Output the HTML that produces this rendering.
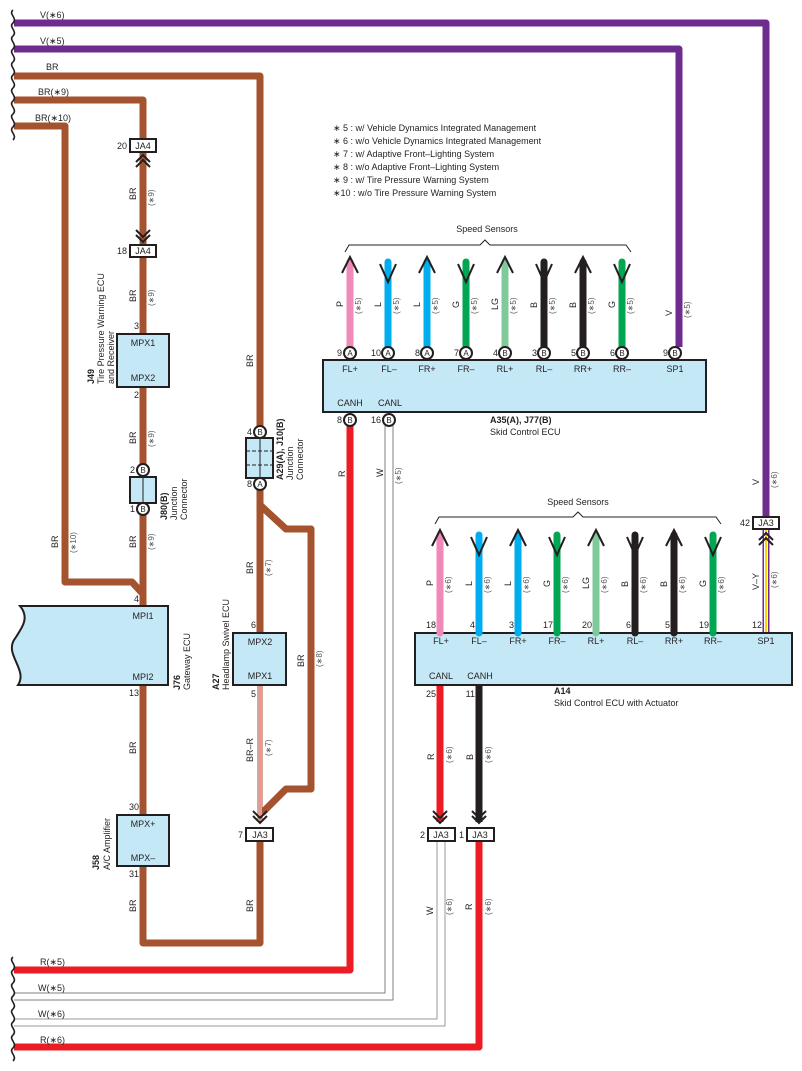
<!DOCTYPE html>
<html><head><meta charset="utf-8"><style>
html,body{margin:0;padding:0;background:#fff}
svg{display:block}
text{font-family:"Liberation Sans",sans-serif;fill:#231f20}
.t{font-size:9px}
.s{font-size:8px;fill:#555}
.b{font-size:9px;font-weight:bold}
</style></head><body>
<svg width="802" height="1071" viewBox="0 0 802 1071" xmlns="http://www.w3.org/2000/svg">
<defs>
<path id="wave" d="M0,0 c-5,4 5,8 0,13 c-5,4 5,8 0,13" fill="none" stroke="#231f20" stroke-width="1.6"/>
</defs>
<g fill="none" stroke-linejoin="round">
<!-- purple -->
<path d="M14,23 H766 V517" stroke="#6e2c8f" stroke-width="7"/>
<path d="M14,49 H679 V347" stroke="#6e2c8f" stroke-width="7"/>
<!-- BR -->
<path d="M14,76 H260 V426" stroke="#a5532f" stroke-width="7"/>
<path d="M14,100 H143 V139" stroke="#a5532f" stroke-width="7"/>
<path d="M14,126 H65 V582 H132 L143,594 V606" stroke="#a5532f" stroke-width="7"/>
<path d="M143,152 V245" stroke="#a5532f" stroke-width="7"/>
<path d="M143,256 V334 M143,387 V464 M143,515 V606" stroke="#a5532f" stroke-width="7"/>
<path d="M143,685 V815 M143,866 V943 H260 V841" stroke="#a5532f" stroke-width="7"/>
<path d="M260,490 V633" stroke="#a5532f" stroke-width="7"/>
<path d="M260,505 L286,529 H311 V789 H286 L262,813" stroke="#a5532f" stroke-width="7"/>
<!-- BR-R -->
<path d="M260,685 V822" stroke="#a5532f" stroke-width="5"/>
<path d="M260,685 V822" stroke="#fff" stroke-width="3"/>
<path d="M260,685 V822" stroke="#ed1c24" stroke-width="1"/>
<!-- red -->
<path d="M14,970 H350 V426" stroke="#ed1c24" stroke-width="7"/>
<path d="M14,1047 H479 V841" stroke="#ed1c24" stroke-width="7"/>
<path d="M440,685 V822" stroke="#ed1c24" stroke-width="7"/>
<path d="M479,685 V822" stroke="#231f20" stroke-width="7"/>
<!-- white wires -->
<path d="M14,993 H385 V426 M14,1000 H393 V426" stroke="#808080" stroke-width="1"/>
<path d="M14,1019 H437 V841 M14,1026 H445 V841" stroke="#999" stroke-width="1"/>
<!-- V-Y -->
<path d="M766,529 V633" stroke="#6e2c8f" stroke-width="7"/>
<path d="M766,529 V633" stroke="#fff" stroke-width="4"/>
<path d="M766,529 V633" stroke="#ffd200" stroke-width="2"/>
</g>
<!-- wavy breaks -->
<use href="#wave" x="13" y="10"/><use href="#wave" x="13" y="36"/><use href="#wave" x="13" y="62"/><use href="#wave" x="13" y="88"/><use href="#wave" x="13" y="114"/>
<use href="#wave" x="13" y="957"/><use href="#wave" x="13" y="983"/><use href="#wave" x="13" y="1009"/><use href="#wave" x="13" y="1035"/>
<g class="t">
<text x="40" y="18">V(∗6)</text><text x="40" y="44">V(∗5)</text><text x="46" y="70">BR</text>
<text x="38" y="95">BR(∗9)</text><text x="35" y="121">BR(∗10)</text>
<text x="40" y="965">R(∗5)</text><text x="38" y="991">W(∗5)</text><text x="38" y="1017">W(∗6)</text><text x="40" y="1043">R(∗6)</text>
</g>
<!-- legend -->
<g class="t">
<text x="333" y="131">∗ 5 : w/ Vehicle Dynamics Integrated Management</text>
<text x="333" y="144">∗ 6 : w/o Vehicle Dynamics Integrated Management</text>
<text x="333" y="157">∗ 7 : w/ Adaptive Front–Lighting System</text>
<text x="333" y="170">∗ 8 : w/o Adaptive Front–Lighting System</text>
<text x="333" y="183">∗ 9 : w/ Tire Pressure Warning System</text>
<text x="333" y="196">∗10 : w/o Tire Pressure Warning System</text>
</g>
<!-- JA4 connectors -->
<g fill="#fff" stroke="#231f20" stroke-width="2">
<rect x="130" y="139" width="26" height="13"/><rect x="130" y="245" width="26" height="12"/>
<rect x="246" y="828" width="27" height="13"/><rect x="428" y="828" width="27" height="13"/><rect x="467" y="828" width="27" height="13"/>
<rect x="753" y="517" width="26" height="12"/>
</g>
<g class="t" text-anchor="middle">
<text x="143" y="149">JA4</text><text x="143" y="254">JA4</text>
<text x="260" y="838">JA3</text><text x="441" y="838">JA3</text><text x="480" y="838">JA3</text><text x="766" y="526">JA3</text>
</g>
<g class="t" text-anchor="end">
<text x="127" y="149">20</text><text x="127" y="254">18</text><text x="243" y="838">7</text><text x="425" y="838">2</text><text x="464" y="838">1</text><text x="750" y="526">42</text>
</g>
<!-- chevrons -->
<g fill="none" stroke="#231f20" stroke-width="2">
<path d="M136,162 L143,155 L150,162 M136,167 L143,160 L150,167"/>
<path d="M136,230 L143,237 L150,230 M136,235 L143,242 L150,235"/>
<path d="M253,811 L260,818 L267,811 M253,816 L260,823 L267,816"/>
<path d="M433,811 L440,818 L447,811 M433,816 L440,823 L447,816"/>
<path d="M472,811 L479,818 L486,811 M472,816 L479,823 L486,816"/>
<path d="M759,540 L766,533 L773,540 M759,545 L766,538 L773,545"/>
</g>
<!-- boxes -->
<g fill="#c5e8f7" stroke="#231f20" stroke-width="2">
<rect x="117" y="334" width="52" height="53"/>
<rect x="117" y="815" width="52" height="51"/>
<rect x="233" y="633" width="53" height="52"/>
<path d="M20,606 H168 V685 H18 C28,670 5,655 14,640 C22,628 30,618 20,606 Z"/>
<rect x="323" y="360" width="383" height="52"/>
<rect x="415" y="633" width="377" height="52"/>
<rect x="130" y="477" width="26" height="26"/>
<rect x="246" y="438" width="27" height="40"/>
</g>
<path d="M143,477 V503 M260,438 V478" stroke="#231f20" stroke-width="1"/>
<path d="M246,451 H273 M246,465 H273" stroke="#231f20" stroke-width="1" stroke-dasharray="4,2"/>
<g class="t" text-anchor="middle">
<text x="143" y="346">MPX1</text><text x="143" y="381">MPX2</text>
<text x="143" y="827">MPX+</text><text x="143" y="861">MPX–</text>
<text x="260" y="645">MPX2</text><text x="260" y="679">MPX1</text>
<text x="143" y="619">MPI1</text><text x="143" y="680">MPI2</text>
</g>
<g class="t" text-anchor="end">
<text x="139" y="329">3</text><text x="139" y="398">2</text><text x="139" y="602">4</text><text x="139" y="696">13</text>
<text x="139" y="810">30</text><text x="139" y="877">31</text><text x="256" y="628">6</text><text x="256" y="697">5</text>
</g>
<!-- circles -->
<g fill="#fff" stroke="#231f20" stroke-width="2">
<circle cx="143" cy="470" r="6"/><circle cx="143" cy="509" r="6"/>
<circle cx="260" cy="432" r="6"/><circle cx="260" cy="484" r="6"/>
<circle cx="350" cy="420" r="6"/><circle cx="389" cy="420" r="6"/>
</g>
<g class="s" text-anchor="middle" style="font-size:8px;fill:#231f20">
<text x="143" y="473">B</text><text x="143" y="512">B</text><text x="260" y="435">B</text><text x="260" y="487">A</text>
<text x="350" y="423">B</text><text x="389" y="423">B</text>
</g>
<g class="t" text-anchor="end">
<text x="135" y="473">2</text><text x="135" y="512">1</text><text x="252" y="435">4</text><text x="252" y="487">8</text>
<text x="342" y="423">8</text><text x="381" y="423">16</text>
</g>
<!-- sensors A35 -->
<g id="sens1">
<g stroke-linecap="round" stroke-width="7" fill="none">
<path d="M350,262 V347" stroke="#f088b8"/><path d="M388,262 V347" stroke="#00aeef"/>
<path d="M427,262 V347" stroke="#00aeef"/><path d="M466,262 V347" stroke="#00a651"/>
<path d="M505,262 V347" stroke="#80c99b"/><path d="M544,262 V347" stroke="#231f20"/>
<path d="M583,262 V347" stroke="#231f20"/><path d="M622,262 V347" stroke="#00a651"/>
</g>
<g fill="none" stroke="#231f20" stroke-width="2">
<path d="M342,273 L350,257 L358,273"/><path d="M380,264 L388,282 L396,264"/>
<path d="M419,273 L427,257 L435,273"/><path d="M458,264 L466,282 L474,264"/>
<path d="M497,273 L505,257 L513,273"/><path d="M536,264 L544,282 L552,264"/>
<path d="M575,273 L583,257 L591,273"/><path d="M614,264 L622,282 L630,264"/>
<path d="M345,252 L349,245 H480 L485,240 L490,245 H626 L631,252" stroke-width="1"/>
</g>
</g>
<text class="t" x="487" y="232" text-anchor="middle">Speed Sensors</text>
<g fill="#fff" stroke="#231f20" stroke-width="2">
<circle cx="350" cy="353" r="6"/><circle cx="388" cy="353" r="6"/><circle cx="427" cy="353" r="6"/><circle cx="466" cy="353" r="6"/>
<circle cx="505" cy="353" r="6"/><circle cx="544" cy="353" r="6"/><circle cx="583" cy="353" r="6"/><circle cx="622" cy="353" r="6"/><circle cx="675" cy="353" r="6"/>
</g>
<g text-anchor="middle" style="font-size:8px">
<text x="350" y="356">A</text><text x="388" y="356">A</text><text x="427" y="356">A</text><text x="466" y="356">A</text>
<text x="505" y="356">B</text><text x="544" y="356">B</text><text x="583" y="356">B</text><text x="622" y="356">B</text><text x="675" y="356">B</text>
</g>
<g class="t" text-anchor="end">
<text x="342" y="356">9</text><text x="381" y="356">10</text><text x="420" y="356">8</text><text x="459" y="356">7</text>
<text x="498" y="356">4</text><text x="537" y="356">3</text><text x="576" y="356">5</text><text x="615" y="356">6</text><text x="668" y="356">9</text>
</g>
<g class="t" text-anchor="middle">
<text x="350" y="372">FL+</text><text x="389" y="372">FL–</text><text x="427" y="372">FR+</text><text x="466" y="372">FR–</text>
<text x="505" y="372">RL+</text><text x="544" y="372">RL–</text><text x="583" y="372">RR+</text><text x="622" y="372">RR–</text><text x="675" y="372">SP1</text>
<text x="350" y="406">CANH</text><text x="390" y="406">CANL</text>
</g>
<text class="b" x="490" y="423">A35(A), J77(B)</text>
<text class="t" x="490" y="435">Skid Control ECU</text>
<!-- sensors A14 -->
<g stroke-linecap="round" stroke-width="7" fill="none">
<path d="M440,535 V633" stroke="#f088b8"/><path d="M479,535 V633" stroke="#00aeef"/>
<path d="M518,535 V633" stroke="#00aeef"/><path d="M557,535 V633" stroke="#00a651"/>
<path d="M596,535 V633" stroke="#80c99b"/><path d="M635,535 V633" stroke="#231f20"/>
<path d="M674,535 V633" stroke="#231f20"/><path d="M713,535 V633" stroke="#00a651"/>
</g>
<g fill="none" stroke="#231f20" stroke-width="2">
<path d="M432,546 L440,530 L448,546"/><path d="M471,537 L479,555 L487,537"/>
<path d="M510,546 L518,530 L526,546"/><path d="M549,537 L557,555 L565,537"/>
<path d="M588,546 L596,530 L604,546"/><path d="M627,537 L635,555 L643,537"/>
<path d="M666,546 L674,530 L682,546"/><path d="M705,537 L713,555 L721,537"/>
<path d="M435,524 L439,517 H573 L578,512 L583,517 H716 L721,524" stroke-width="1"/>
</g>
<text class="t" x="578" y="505" text-anchor="middle">Speed Sensors</text>
<g class="t" text-anchor="end">
<text x="436" y="628">18</text><text x="475" y="628">4</text><text x="514" y="628">3</text><text x="553" y="628">17</text>
<text x="592" y="628">20</text><text x="631" y="628">6</text><text x="670" y="628">5</text><text x="709" y="628">19</text><text x="762" y="628">12</text>
<text x="436" y="697">25</text><text x="475" y="697">11</text>
</g>
<g class="t" text-anchor="middle">
<text x="441" y="644">FL+</text><text x="479" y="644">FL–</text><text x="518" y="644">FR+</text><text x="557" y="644">FR–</text>
<text x="596" y="644">RL+</text><text x="635" y="644">RL–</text><text x="674" y="644">RR+</text><text x="713" y="644">RR–</text><text x="766" y="644">SP1</text>
<text x="441" y="679">CANL</text><text x="480" y="679">CANH</text>
</g>
<text class="b" x="554" y="694">A14</text>
<text class="t" x="554" y="706">Skid Control ECU with Actuator</text>
<!-- rotated labels: [x,y,text,class] -->
<g class="t">
<g transform="translate(136,200) rotate(-90)"><text>BR</text></g>
<g transform="translate(154,206) rotate(-90)"><text class="s">(∗9)</text></g>
<g transform="translate(136,302) rotate(-90)"><text>BR</text></g>
<g transform="translate(154,306) rotate(-90)"><text class="s">(∗9)</text></g>
<g transform="translate(136,444) rotate(-90)"><text>BR</text></g>
<g transform="translate(154,447) rotate(-90)"><text class="s">(∗9)</text></g>
<g transform="translate(136,548) rotate(-90)"><text>BR</text></g>
<g transform="translate(154,550) rotate(-90)"><text class="s">(∗9)</text></g>
<g transform="translate(58,548) rotate(-90)"><text>BR</text></g>
<g transform="translate(76,553) rotate(-90)"><text class="s">(∗10)</text></g>
<g transform="translate(136,754) rotate(-90)"><text>BR</text></g>
<g transform="translate(136,912) rotate(-90)"><text>BR</text></g>
<g transform="translate(253,912) rotate(-90)"><text>BR</text></g>
<g transform="translate(253,367) rotate(-90)"><text>BR</text></g>
<g transform="translate(253,574) rotate(-90)"><text>BR</text></g>
<g transform="translate(271,576) rotate(-90)"><text class="s">(∗7)</text></g>
<g transform="translate(253,762) rotate(-90)"><text>BR–R</text></g>
<g transform="translate(271,756) rotate(-90)"><text class="s">(∗7)</text></g>
<g transform="translate(304,667) rotate(-90)"><text>BR</text></g>
<g transform="translate(322,667) rotate(-90)"><text class="s">(∗8)</text></g>
<g transform="translate(345,477) rotate(-90)"><text>R</text></g>
<g transform="translate(383,477) rotate(-90)"><text>W</text></g>
<g transform="translate(401,484) rotate(-90)"><text class="s">(∗5)</text></g>
<g transform="translate(433,915) rotate(-90)"><text>W</text></g>
<g transform="translate(452,915) rotate(-90)"><text class="s">(∗6)</text></g>
<g transform="translate(472,910) rotate(-90)"><text>R</text></g>
<g transform="translate(491,915) rotate(-90)"><text class="s">(∗6)</text></g>
<g transform="translate(434,760) rotate(-90)"><text>R</text></g>
<g transform="translate(452,763) rotate(-90)"><text class="s">(∗6)</text></g>
<g transform="translate(473,760) rotate(-90)"><text>B</text></g>
<g transform="translate(491,763) rotate(-90)"><text class="s">(∗6)</text></g>
<g transform="translate(759,485) rotate(-90)"><text>V</text></g>
<g transform="translate(777,488) rotate(-90)"><text class="s">(∗6)</text></g>
<g transform="translate(759,590) rotate(-90)"><text>V–Y</text></g>
<g transform="translate(777,588) rotate(-90)"><text class="s">(∗6)</text></g>
<g transform="translate(672,316) rotate(-90)"><text>V</text></g>
<g transform="translate(690,318) rotate(-90)"><text class="s">(∗5)</text></g>
<!-- sensor labels A35 -->
<g transform="translate(343,307) rotate(-90)"><text>P</text></g><g transform="translate(361,314) rotate(-90)"><text class="s">(∗5)</text></g>
<g transform="translate(381,307) rotate(-90)"><text>L</text></g><g transform="translate(399,314) rotate(-90)"><text class="s">(∗5)</text></g>
<g transform="translate(420,307) rotate(-90)"><text>L</text></g><g transform="translate(438,314) rotate(-90)"><text class="s">(∗5)</text></g>
<g transform="translate(459,308) rotate(-90)"><text>G</text></g><g transform="translate(477,314) rotate(-90)"><text class="s">(∗5)</text></g>
<g transform="translate(498,310) rotate(-90)"><text>LG</text></g><g transform="translate(516,314) rotate(-90)"><text class="s">(∗5)</text></g>
<g transform="translate(537,308) rotate(-90)"><text>B</text></g><g transform="translate(555,314) rotate(-90)"><text class="s">(∗5)</text></g>
<g transform="translate(576,308) rotate(-90)"><text>B</text></g><g transform="translate(594,314) rotate(-90)"><text class="s">(∗5)</text></g>
<g transform="translate(615,308) rotate(-90)"><text>G</text></g><g transform="translate(633,314) rotate(-90)"><text class="s">(∗5)</text></g>
<!-- sensor labels A14 -->
<g transform="translate(433,586) rotate(-90)"><text>P</text></g><g transform="translate(451,593) rotate(-90)"><text class="s">(∗6)</text></g>
<g transform="translate(472,586) rotate(-90)"><text>L</text></g><g transform="translate(490,593) rotate(-90)"><text class="s">(∗6)</text></g>
<g transform="translate(511,586) rotate(-90)"><text>L</text></g><g transform="translate(529,593) rotate(-90)"><text class="s">(∗6)</text></g>
<g transform="translate(550,587) rotate(-90)"><text>G</text></g><g transform="translate(568,593) rotate(-90)"><text class="s">(∗6)</text></g>
<g transform="translate(589,589) rotate(-90)"><text>LG</text></g><g transform="translate(607,593) rotate(-90)"><text class="s">(∗6)</text></g>
<g transform="translate(628,587) rotate(-90)"><text>B</text></g><g transform="translate(646,593) rotate(-90)"><text class="s">(∗6)</text></g>
<g transform="translate(667,587) rotate(-90)"><text>B</text></g><g transform="translate(685,593) rotate(-90)"><text class="s">(∗6)</text></g>
<g transform="translate(706,587) rotate(-90)"><text>G</text></g><g transform="translate(724,593) rotate(-90)"><text class="s">(∗6)</text></g>
<!-- component names -->
<g transform="translate(94,384) rotate(-90)"><text class="b">J49</text></g>
<g transform="translate(104,384) rotate(-90)"><text>Tire Pressure Warning ECU</text></g>
<g transform="translate(114,384) rotate(-90)"><text>and Receiver</text></g>
<g transform="translate(167,520) rotate(-90)"><text class="b">J80(B)</text></g>
<g transform="translate(177,520) rotate(-90)"><text>Junction</text></g>
<g transform="translate(187,520) rotate(-90)"><text>Connector</text></g>
<g transform="translate(283,480) rotate(-90)"><text class="b">A29(A), J10(B)</text></g>
<g transform="translate(293,480) rotate(-90)"><text>Junction</text></g>
<g transform="translate(303,480) rotate(-90)"><text>Connector</text></g>
<g transform="translate(180,690) rotate(-90)"><text class="b">J76</text></g>
<g transform="translate(190,690) rotate(-90)"><text>Gateway ECU</text></g>
<g transform="translate(219,690) rotate(-90)"><text class="b">A27</text></g>
<g transform="translate(229,690) rotate(-90)"><text>Headlamp Swivel ECU</text></g>
<g transform="translate(99,870) rotate(-90)"><text class="b">J58</text></g>
<g transform="translate(110,870) rotate(-90)"><text>A/C Amplifier</text></g>
</g>
</svg>
</body></html>
